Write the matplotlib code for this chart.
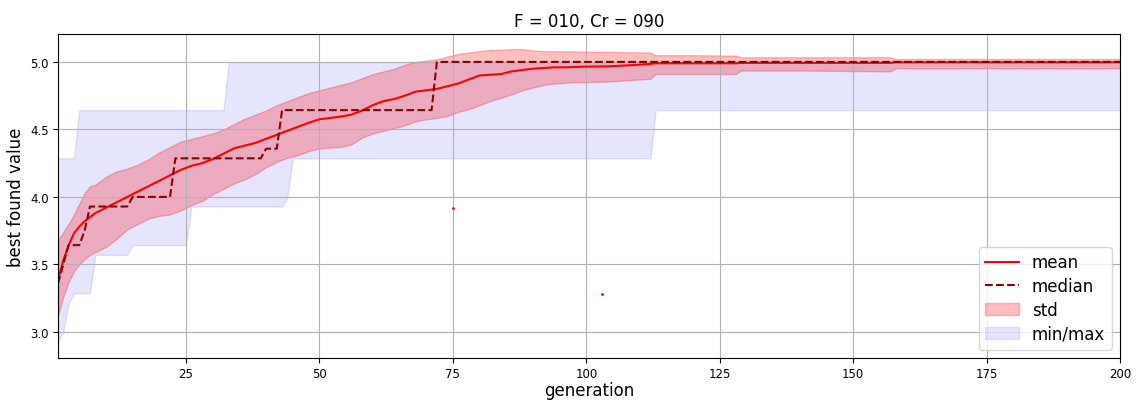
import numpy as np
import matplotlib
matplotlib.use("Agg")
import matplotlib.pyplot as plt

# generations where the smooth curves were read
gen_s = [1, 2, 3, 4, 5, 6, 7, 8, 10, 12, 14, 16, 18, 20, 22, 24, 26, 28, 30, 32,
         34, 36, 38, 40, 42, 44, 46, 48, 50, 52, 54, 56, 58, 60, 62, 64, 66, 68, 70, 72,
         74, 76, 78, 80, 82, 84, 86, 88, 90, 92, 94, 96, 98, 100, 104, 108, 112, 113, 120, 128,
         129, 140, 157, 158, 170, 185, 200]

mean = [3.38, 3.53, 3.64, 3.73, 3.78, 3.82, 3.85, 3.88, 3.92, 3.96, 4.00, 4.04, 4.08, 4.12, 4.16, 4.20, 4.23, 4.25, 4.28, 4.32,
        4.36, 4.38, 4.40, 4.43, 4.46, 4.49, 4.52, 4.55, 4.575, 4.585, 4.595, 4.61, 4.64, 4.68, 4.71, 4.725, 4.75, 4.78, 4.79, 4.80,
        4.82, 4.84, 4.87, 4.90, 4.905, 4.91, 4.93, 4.94, 4.95, 4.955, 4.96, 4.96, 4.963, 4.965, 4.967, 4.975, 4.985, 4.99, 4.99, 4.99,
        4.993, 4.993, 4.993, 4.997, 4.997, 4.997, 4.997]

std_hi = [3.68, 3.74, 3.80, 3.87, 3.95, 4.03, 4.08, 4.09, 4.15, 4.19, 4.21, 4.24, 4.28, 4.33, 4.37, 4.41, 4.43, 4.45, 4.47, 4.50,
          4.54, 4.58, 4.61, 4.64, 4.68, 4.71, 4.74, 4.77, 4.79, 4.81, 4.83, 4.85, 4.88, 4.91, 4.93, 4.95, 4.98, 5.00, 5.01, 5.02,
          5.04, 5.06, 5.07, 5.08, 5.09, 5.09, 5.095, 5.095, 5.085, 5.08, 5.08, 5.08, 5.078, 5.076, 5.075, 5.072, 5.07, 5.05, 5.05, 5.047,
          5.035, 5.035, 5.035, 5.022, 5.022, 5.022, 5.022]

std_lo = [3.12, 3.26, 3.37, 3.45, 3.50, 3.54, 3.57, 3.59, 3.63, 3.69, 3.76, 3.80, 3.84, 3.86, 3.87, 3.90, 3.94, 3.97, 4.02, 4.06,
          4.10, 4.13, 4.17, 4.22, 4.26, 4.29, 4.31, 4.34, 4.36, 4.365, 4.37, 4.39, 4.44, 4.47, 4.49, 4.51, 4.53, 4.56, 4.575, 4.585,
          4.60, 4.63, 4.65, 4.68, 4.71, 4.735, 4.76, 4.79, 4.81, 4.83, 4.84, 4.845, 4.85, 4.85, 4.855, 4.865, 4.875, 4.911, 4.911, 4.911,
          4.936, 4.936, 4.93, 4.953, 4.953, 4.953, 4.953]

# step series, given at their break points
med_gen = [1, 2, 3, 5, 6, 7, 14, 15, 22, 23, 39, 40, 42, 43, 71, 72, 200]
med_val = [3.357, 3.5, 3.643, 3.643, 3.75, 3.929, 3.929, 4.0, 4.0, 4.286, 4.286, 4.357, 4.357, 4.643, 4.643, 5.0, 5.0]

min_gen = [1, 2, 3, 4, 7, 8, 14, 15, 25, 26, 43, 44, 45, 112, 113, 200]
min_val = [2.929, 3.0, 3.214, 3.286, 3.286, 3.571, 3.571, 3.643, 3.643, 3.929, 3.929, 4.0, 4.286, 4.286, 4.643, 4.643]

max_gen = [1, 4, 5, 32, 33, 200]
max_val = [4.286, 4.286, 4.643, 4.643, 5.0, 5.0]

# two stray points
dot_gen = [75, 103]
dot_val = [3.92, 3.28]

fig, ax = plt.subplots(figsize=(11.36, 4.02), dpi=100)
fig.subplots_adjust(left=0.051, right=0.986, top=0.913, bottom=0.107)

mm_x = np.arange(1, 201)
mm_lo = np.interp(mm_x, min_gen, min_val)
mm_hi = np.interp(mm_x, max_gen, max_val)

ax.fill_between(mm_x, mm_lo, mm_hi, color="blue", alpha=0.1, label="min/max")
ax.fill_between(gen_s, std_lo, std_hi, color="red", alpha=0.25, label="std")
ax.plot(gen_s, mean, color="red", lw=1.5, label="mean")
ax.plot(med_gen, med_val, color="darkred", ls="--", lw=1.5, label="median")
ax.plot(dot_gen, dot_val, "r.", ms=2)

ax.set_xlim(1, 200)
ax.set_ylim(2.807, 5.207)
ax.set_xticks([25, 50, 75, 100, 125, 150, 175, 200])
ax.set_yticks([3.0, 3.5, 4.0, 4.5, 5.0])
ax.tick_params(labelsize=8.5, pad=3)
ax.grid(True)
ax.set_title("F = 010, Cr = 090", fontsize=12)
ax.set_xlabel("generation", fontsize=12, labelpad=1)
ax.set_ylabel("best found value", fontsize=12)

h, l = ax.get_legend_handles_labels()
order = [l.index(k) for k in ["mean", "median", "std", "min/max"]]
ax.legend([h[i] for i in order], [l[i] for i in order], loc="lower right",
          fontsize=12, labelspacing=0.35)

fig.savefig("out.png")
